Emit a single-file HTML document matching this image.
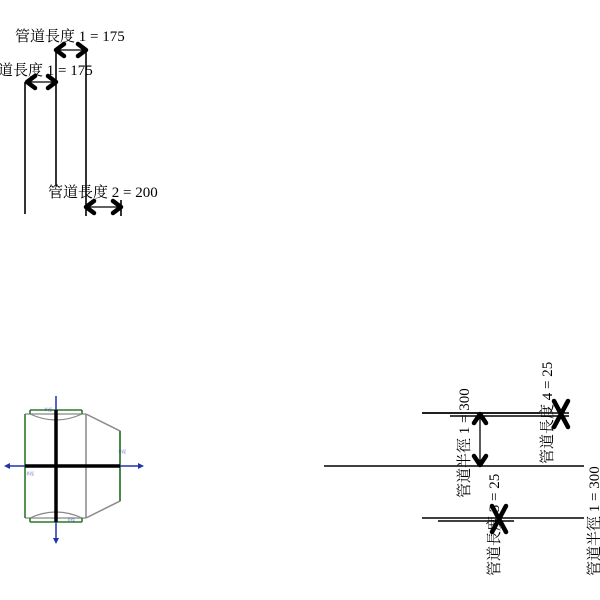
<!DOCTYPE html>
<html><head><meta charset="utf-8"><style>
html,body{margin:0;padding:0;background:#fff;}
svg{display:block;}
text{font-family:"Liberation Serif","Noto Serif CJK SC","Noto Sans CJK TC",serif;fill:#000;}
</style></head><body>
<svg width="600" height="600" viewBox="0 0 600 600" xmlns="http://www.w3.org/2000/svg">
<!-- top-left -->
<g stroke="#000" stroke-width="1.6" fill="none">
<line x1="25" y1="82" x2="25" y2="214"/>
<line x1="56" y1="50" x2="56" y2="186"/>
<line x1="86" y1="50" x2="86" y2="216"/>
<line x1="121" y1="200" x2="121" y2="216"/>
<line x1="56" y1="50" x2="86" y2="50" stroke-width="1.2"/>
<line x1="27" y1="82" x2="56" y2="82" stroke-width="1.2"/>
<line x1="86" y1="207" x2="121" y2="207" stroke-width="1.2"/>
</g>
<g stroke="#000" stroke-width="4.5" fill="none" stroke-linecap="round" stroke-linejoin="round">
<polyline points="64,44 56,50 64,56"/><polyline points="78,44 86,50 78,56"/>
<polyline points="35,76 27,82 35,88"/><polyline points="48,76 56,82 48,88"/>
<polyline points="94,201 86,207 94,213"/><polyline points="113,201 121,207 113,213"/>
</g>
<text x="15" y="41" font-size="15">管道長度 1 = 175</text>
<text x="-2" y="75" font-size="15">道長度 1 = 175</text>
<text x="48" y="197" font-size="15">管道長度 2 = 200</text>

<!-- bottom-left figure -->
<g fill="none">
<path d="M30,414 Q56,426 82,414" stroke="#888" stroke-width="1.2"/>
<path d="M30,518 Q56,506 82,518" stroke="#888" stroke-width="1.2"/>
<polyline points="86,414 120,431 120,501 86,518" stroke="#888" stroke-width="1.5"/>
<line x1="86" y1="414" x2="86" y2="518" stroke="#888" stroke-width="1.5"/>
<line x1="25" y1="414" x2="86" y2="414" stroke="#888" stroke-width="1.2"/>
<line x1="25" y1="518" x2="86" y2="518" stroke="#888" stroke-width="1.2"/>
<line x1="25" y1="414" x2="25" y2="518" stroke="#2a7a2a" stroke-width="1.6"/>
<line x1="120" y1="431" x2="120" y2="501" stroke="#2a7a2a" stroke-width="1.6"/>
<line x1="30" y1="410" x2="82" y2="410" stroke="#2a7a2a" stroke-width="1.6"/>
<line x1="30" y1="410" x2="30" y2="414" stroke="#2a7a2a" stroke-width="1.6"/>
<line x1="82" y1="410" x2="82" y2="414" stroke="#2a7a2a" stroke-width="1.6"/>
<line x1="30" y1="522" x2="82" y2="522" stroke="#2a7a2a" stroke-width="1.6"/>
<line x1="30" y1="518" x2="30" y2="522" stroke="#2a7a2a" stroke-width="1.6"/>
<line x1="82" y1="518" x2="82" y2="522" stroke="#2a7a2a" stroke-width="1.6"/>
<line x1="7" y1="466" x2="141" y2="466" stroke="#2233aa" stroke-width="1.5"/>
<line x1="56" y1="396" x2="56" y2="541" stroke="#2233aa" stroke-width="1.5"/>
<line x1="25" y1="466" x2="120" y2="466" stroke="#000" stroke-width="3.5"/>
<line x1="56" y1="410" x2="56" y2="522" stroke="#000" stroke-width="3.5"/>
</g>
<g fill="#2233aa">
<polygon points="4,466 10,463 10,469"/><polygon points="144,466 138,463 138,469"/>
<polygon points="56,544 53,538 59,538"/>
</g>
<g font-size="4" fill="#2233aa"><text x="44" y="411" style="fill:#2233aa">半徑</text><text x="118" y="453" style="fill:#2233aa">半徑</text><text x="26" y="475" style="fill:#2233aa">半徑</text><text x="67" y="521" style="fill:#2233aa">半徑</text></g>

<!-- right -->
<g stroke="#000" stroke-width="1.5" fill="none">
<line x1="324" y1="466" x2="584" y2="466"/>
<line x1="422" y1="413" x2="540" y2="413"/>
<line x1="450" y1="416" x2="569" y2="416"/>
<line x1="422" y1="413" x2="569" y2="413"/>
<line x1="422" y1="518" x2="584" y2="518"/>
<line x1="438" y1="521" x2="514" y2="521"/>
<line x1="480" y1="414" x2="480" y2="465" stroke-width="1.3"/>
</g>
<g stroke="#000" stroke-width="4.5" fill="none" stroke-linecap="round" stroke-linejoin="round">
<polyline points="474,423 480,414 486,423"/><polyline points="474,456 480,465 486,456"/>
<polyline points="554,401 561,414 554,427"/><polyline points="568,401 561,414 568,427"/>
<polyline points="492,506 499,519 492,532"/><polyline points="506,506 499,519 506,532"/>
</g>
<g font-size="15">
<text transform="translate(469,498) rotate(-90)">管道半徑 1 = 300</text>
<text transform="translate(552,464) rotate(-90)">管道長度 4 = 25</text>
<text transform="translate(499,576) rotate(-90)">管道長度 3 = 25</text>
<text transform="translate(599,576) rotate(-90)">管道半徑 1 = 300</text>
</g>
</svg>
</body></html>
